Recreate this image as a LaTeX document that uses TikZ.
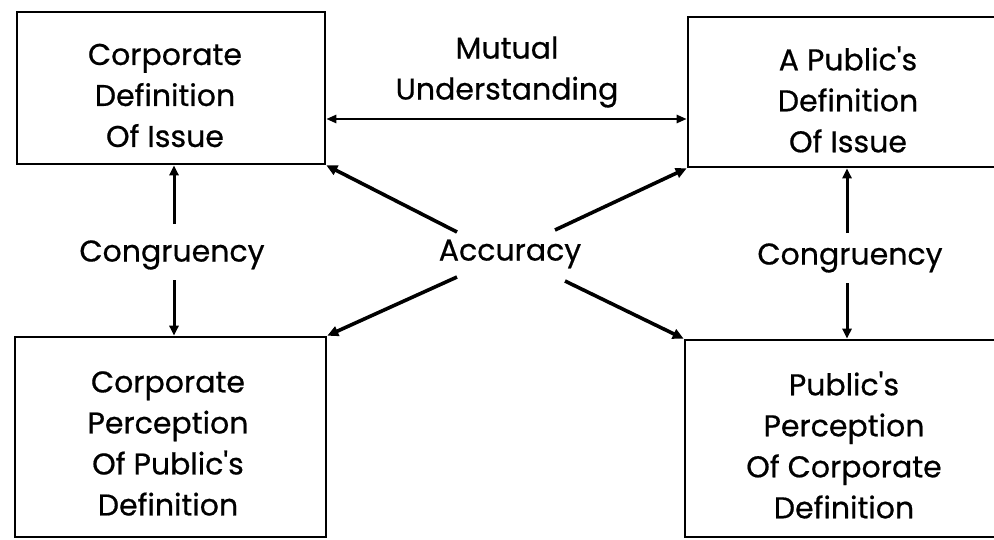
\documentclass[tikz,border=0pt]{standalone}
\usepackage{fontspec}
\setmainfont{Poppins}[FakeBold=0.6]
\usetikzlibrary{arrows.meta}
\newcommand{\ap}{\textquotesingle}
\begin{document}
\begin{tikzpicture}[x=1pt,y=-1pt,
  box/.style={draw,line width=2.6pt,inner sep=0pt,rectangle},
  txt/.style={align=center,inner sep=0pt,font=\fontsize{30}{41}\selectfont},
  arr/.style={line width=3pt,-{Triangle[length=10pt,width=9pt]}},
  acc/.style={line width=3.6pt,-{Triangle[length=11pt,width=10pt]}},
  dbl/.style={line width=2.4pt,{Triangle[length=10pt,width=8pt]}-{Triangle[length=10pt,width=8pt]}}]
\useasboundingbox (0,0) rectangle (994,539);
\clip (0,0) rectangle (994,539);
% boxes
\node[box,minimum width=308pt,minimum height=152pt] (tl) at (171,88) {};
\node[box,minimum width=330pt,minimum height=150pt] (tr) at (853,92) {};
\node[box,minimum width=311pt,minimum height=200pt] (bl) at (170.5,437) {};
\node[box,minimum width=330pt,minimum height=197pt] (br) at (850,438.5) {};
% box texts
\node[txt] (tlt) at (165,95.5) {Corporate\\Definition\\Of Issue};
\node[txt] (trt) at (848,99.5) {A Public\ap s\\Definition\\Of Issue};
\node[txt] (blt) at (168,443.5) {Corporate\\Perception\\Of Public\ap s\\Definition};
\node[txt] (brt) at (844,445) {Public\ap s\\Perception\\Of Corporate\\Definition};
% labels
\node[txt] (mu) at (507,72) {Mutual\\Understanding};
\node[txt] (ac) at (510,254) {Accuracy};
\node[txt] (cl) at (172,255) {Congruency};
\node[txt] (cr) at (850,258) {Congruency};
% connector coordinates
\coordinate (mua) at (507,119);
\coordinate (cl1) at (174,224);
\coordinate (cl2) at (174,280);
\coordinate (cr1) at (847,233);
\coordinate (cr2) at (847,283);
\coordinate (a1) at (457,232);
\coordinate (a2) at (555,230);
\coordinate (a3) at (457,277);
\coordinate (a4) at (565,281);
% connectors
\draw[dbl] (tl.east |- mua) -- (tr.west |- mua);
\draw[arr] (cl1) -- (cl1 |- tl.south);
\draw[arr] (cl2) -- (cl2 |- bl.north);
\draw[arr] (cr1) -- (cr1 |- tr.south);
\draw[arr] (cr2) -- (cr2 |- br.north);
\draw[acc] (a1) -- (tl.south east);
\draw[acc] (a2) -- (tr.south west);
\draw[acc] (a3) -- (bl.north east);
\draw[acc] (a4) -- (br.north west);
\end{tikzpicture}
\end{document}
